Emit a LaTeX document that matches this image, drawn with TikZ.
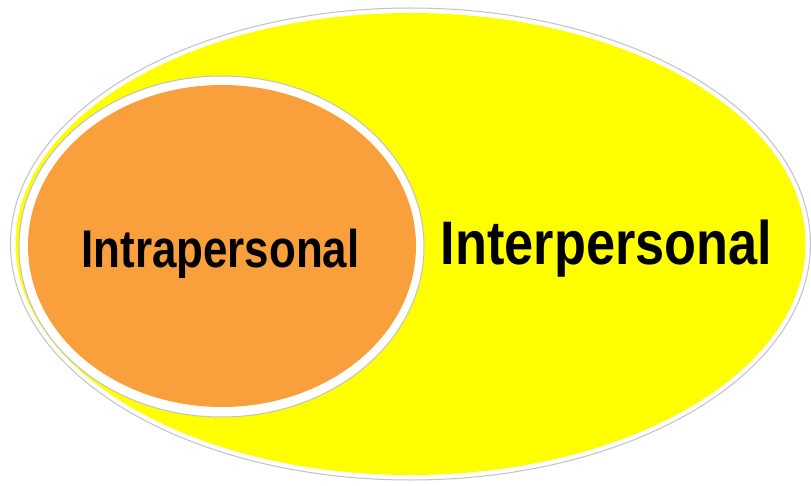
\documentclass[tikz,border=0pt]{standalone}
\usepackage{fontspec}
\setmainfont{Liberation Sans}
\newlength{\du}
\setlength{\du}{1pt}
\definecolor{ringgray}{rgb}{0.760000, 0.760000, 0.760000}
\definecolor{outeryellow}{rgb}{1.000000, 1.000000, 0.000000}
\definecolor{innerorange}{rgb}{0.976000, 0.627000, 0.235000}
\tikzset{
  ringline/.style={draw=ringgray, fill=white, line width=1\du},
  circletext/.style={anchor=base, inner sep=0pt, font=\bfseries}
}
\begin{document}
\begin{tikzpicture}
\pgftransformxscale{1.000000}
\pgftransformyscale{-1.000000}
\useasboundingbox (0\du,0\du) rectangle (811\du,486\du);
% outer ellipse
\path[ringline] (410.500000\du,244.000000\du) ellipse [x radius=400.000000\du, y radius=236.000000\du];
\fill[outeryellow] (410.500000\du,244.000000\du) ellipse [x radius=395.000000\du, y radius=231.000000\du];
% inner ellipse
\path[ringline] (221.500000\du,246.500000\du) ellipse [x radius=202.500000\du, y radius=170.500000\du];
\fill[innerorange] (222.000000\du,246.000000\du) ellipse [x radius=194.000000\du, y radius=161.000000\du];
% labels
\node[circletext, xscale=0.828] (intra) at (220.500000\du,268.000000\du){\fontsize{53\du}{60\du}\selectfont Intrapersonal};
\node[circletext, xscale=0.850] (inter) at (606.500000\du,265.000000\du){\fontsize{61.5\du}{70\du}\selectfont Interpersonal};
\end{tikzpicture}
\end{document}
